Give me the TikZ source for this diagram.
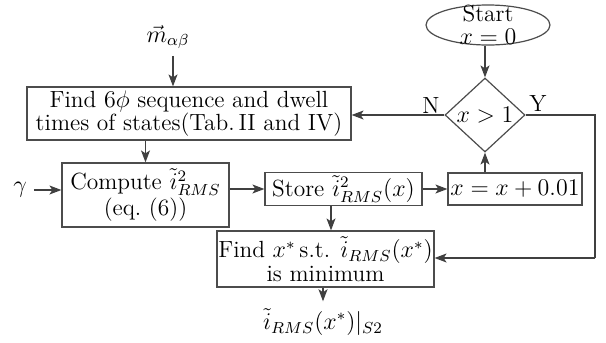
\documentclass[tikz,border=0pt]{standalone}
\usetikzlibrary{shapes.geometric,arrows.meta}
\begin{document}
\begin{tikzpicture}[x=0.5pt,y=-0.5pt,
  every node/.style={font=\fontsize{11.7}{11.6}\selectfont},
  box/.style={draw=black!70,line width=0.6pt,rectangle,inner sep=0pt,align=center},
  conn/.style={draw=black!75,line width=0.6pt,-{Stealth[length=6pt,width=4.5pt,inset=1.5pt]}},
  plainline/.style={draw=black!75,line width=0.6pt}]
\useasboundingbox (0,0) rectangle (606,343);
% nodes
\node[box,minimum width=162pt,minimum height=26.5pt] (find6) at (189,113.5)
  {Find $6\phi$ sequence and dwell\\times of states(Tab.\,II and IV)};
\node[box,minimum width=83.5pt,minimum height=32pt] (comp) at (145.5,195)
  {Compute $\tilde{i}^2_{RMS}$\\(eq.~(6))};
\node[box,minimum width=78.5pt,minimum height=16.5pt] (store) at (343.5,189)
  {Store $\tilde{i}^2_{RMS}(x)$};
\node[box,minimum width=67pt,minimum height=16pt] (incr) at (515,189)
  {$x=x+0.01$};
\node[draw=black!70,line width=0.6pt,diamond,inner sep=0pt,minimum width=40pt,minimum height=37pt] (dec) at (485,115) {};
\node (declbl) at (dec) {$x>1$};
\node[draw=black!70,line width=0.6pt,ellipse,inner sep=0pt,minimum width=62pt,minimum height=20pt] (start) at (488,25) {};
\node[align=center] (startlbl) at (start) {Start\\$x=0$};
\node[box,minimum width=108.5pt,minimum height=28pt] (fmin) at (325.5,259)
  {Find $x^*$\,s.t. $\tilde{i}_{RMS}(x^*)$\\is minimum};
\node (m) at (168,37) {$\vec{m}_{\alpha\beta}$};
\node (g) at (20,190) {$\gamma$};
\node (out) at (323,322) {$\tilde{i}_{RMS}(x^*)|_{S2}$};
\node (N) at (431,106) {N};
\node (Y) at (538,104) {Y};
\coordinate (ycorner1) at (595,115);
\coordinate (ycorner2) at (595,258);
% connectors
\draw[conn] (m.south -| 173,0) -- (find6.north -| 173,0);
\draw[conn] (find6.south -| comp) -- (comp.north);
\draw[conn] (g.east) -- (comp.west |- g.east);
\draw[conn] (comp.east |- store) -- (store.west);
\draw[conn] (store.east) -- (incr.west);
\draw[conn] (store.south -| 331,0) -- (fmin.north -| 331,0);
\draw[conn] (incr.north -| dec) -- (dec.south);
\draw[conn] (start.south -| dec) -- (dec.north);
\draw[conn] (dec.west) -- (find6.east |- dec.west);
\draw[plainline] (dec.east) -- (ycorner1) -- (ycorner2);
\draw[conn] (ycorner2) -- (fmin.east |- ycorner2);
\draw[conn] (fmin.south -| out) -- (out.north);
\end{tikzpicture}
\end{document}
